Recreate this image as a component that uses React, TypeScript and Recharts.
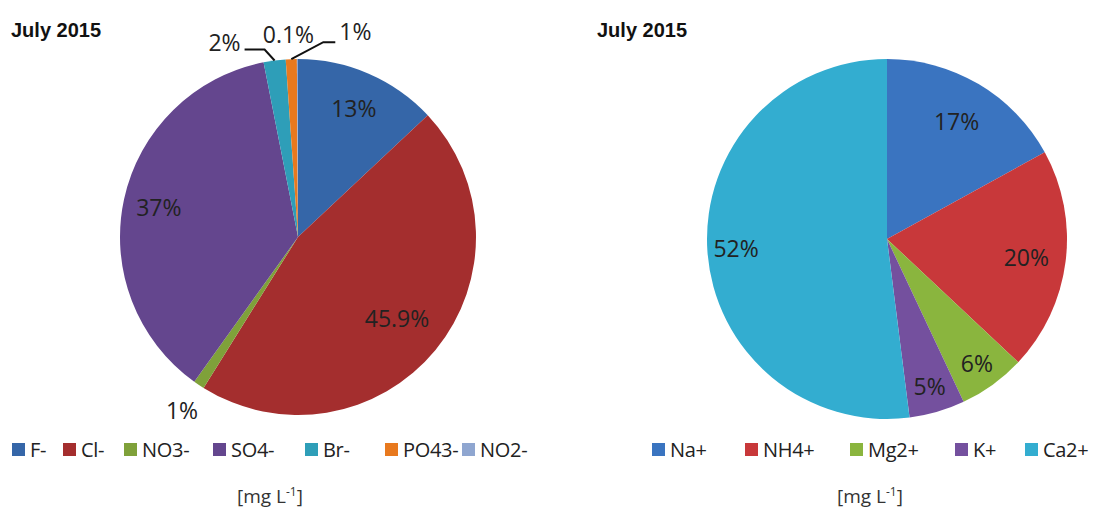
import { PieChart, Pie, Cell } from 'recharts';

const anionNames = ['F-', 'Cl-', 'NO3-', 'SO4-', 'Br-', 'PO43-', 'NO2-'];
const anionValues = [13, 45.9, 1, 37, 2, 1, 0.1];
const anionColors = ['#3566A8', '#A42E2E', '#7FA13A', '#64468E', '#2E9EB8', '#E8791E', '#8FA6D0'];

const cationNames = ['Na+', 'NH4+', 'Mg2+', 'K+', 'Ca2+'];
const cationValues = [17, 20, 6, 5, 52];
const cationColors = ['#3A74C0', '#C8383A', '#8AB53E', '#74509E', '#33ADD0'];

const titleText = 'July 2015';

const labelFont = '"Open Sans", sans-serif';
const RAD = Math.PI / 180;
const noMargin = { top: 0, right: 0, bottom: 0, left: 0 };

// radial position of each inside label, as a fraction of the radius
const anionLabelR = [0.79, 0.72, 1.17, 0.8];
const cationLabelR = [0.76, 0.78, 0.85, 0.85, 0.84];

// legend item slot widths (px), as spaced in the original
const anionLegendSlots = [51, 61, 89, 92, 80, 77, 90];
const cationLegendSlots = [93, 105, 105, 70, 80];

// small slices at the top get callouts: offsets from the arc point
const anionCallouts: Record<number, { line?: number[][]; tx: number; ty: number; anchor: string }> = {
  4: { line: [[0, 0], [-10, -11], [-30, -11]], tx: -34, ty: -10, anchor: 'end' },
  5: { line: [[0, 0], [32, -17], [44, -17]], tx: 48, ty: -19, anchor: 'start' },
  6: { tx: -9, ty: -16, anchor: 'middle' },
};

const fmt = (v: number) => `${v}%`;

function makeLabel(values: number[], radii: number[], callouts: Record<number, any>) {
  return (props: any) => {
    const { cx, cy, midAngle, outerRadius, index } = props;
    const c = callouts[index];
    if (c) {
      const px = cx + outerRadius * Math.cos(-midAngle * RAD);
      const py = cy + outerRadius * Math.sin(-midAngle * RAD);
      return (
        <g key={`l-${index}`}>
          {c.line && (
            <polyline
              points={c.line.map((p: number[]) => `${px + p[0]},${py + p[1]}`).join(' ')}
              fill="none"
              stroke="#111"
              strokeWidth={2}
            />
          )}
          <text x={px + c.tx} y={py + c.ty} textAnchor={c.anchor} fill="#222" fontSize={23} fontFamily={labelFont}>
            {fmt(values[index])}
          </text>
        </g>
      );
    }
    const r = outerRadius * radii[index];
    const x = cx + r * Math.cos(-midAngle * RAD);
    const y = cy + r * Math.sin(-midAngle * RAD);
    return (
      <text key={`l-${index}`} x={x} y={y} textAnchor="middle" dominantBaseline="central" fill="#222" fontSize={23} fontFamily={labelFont}>
        {fmt(values[index])}
      </text>
    );
  };
}

function LegendRow({ names, colors, slots }: { names: string[]; colors: string[]; slots: number[] }) {
  return (
    <div style={{ display: 'flex', fontFamily: labelFont, fontSize: 20, letterSpacing: -0.3, color: '#222', whiteSpace: 'nowrap' }}>
      {names.map((n, i) => (
        <div key={n} style={{ display: 'flex', alignItems: 'center', width: slots[i] }}>
          <div style={{ width: 13, height: 13, background: colors[i], marginRight: 5, flex: 'none' }} />
          <span>{n}</span>
        </div>
      ))}
    </div>
  );
}

function Unit({ left }: { left: number }) {
  return (
    <div style={{ position: 'absolute', left, top: 483, fontFamily: labelFont, fontSize: 19, color: '#333' }}>
      [mg L<sup style={{ fontSize: 12 }}>-1</sup>]
    </div>
  );
}

function Title({ left }: { left: number }) {
  return (
    <div style={{ position: 'absolute', left, top: 19, fontFamily: '"Liberation Sans", Arial, sans-serif', fontWeight: 700, fontSize: 20, letterSpacing: 0, color: '#111' }}>
      {titleText}
    </div>
  );
}

export default function App() {
  const anionData = anionNames.map((name, i) => ({ name, value: anionValues[i] }));
  const cationData = cationNames.map((name, i) => ({ name, value: cationValues[i] }));
  return (
    <div style={{ position: 'fixed', left: 0, top: 0, width: 1100, height: 509, background: '#fff', overflow: 'hidden' }}>
      <div style={{ position: 'absolute', left: 0, top: 0 }}>
        <PieChart width={590} height={430} margin={noMargin}>
          <Pie
            data={anionData}
            dataKey="value"
            nameKey="name"
            cx={298}
            cy={237}
            outerRadius={178}
            startAngle={90}
            endAngle={-270}
            stroke="none"
            labelLine={false}
            label={makeLabel(anionValues, anionLabelR, anionCallouts)}
            isAnimationActive={false}
          >
            {anionData.map((d, i) => (
              <Cell key={d.name} fill={anionColors[i]} />
            ))}
          </Pie>
        </PieChart>
      </div>
      <div style={{ position: 'absolute', left: 590, top: 0 }}>
        <PieChart width={510} height={430} margin={noMargin}>
          <Pie
            data={cationData}
            dataKey="value"
            nameKey="name"
            cx={297}
            cy={239}
            outerRadius={180}
            startAngle={90}
            endAngle={-270}
            stroke="none"
            labelLine={false}
            label={makeLabel(cationValues, cationLabelR, {})}
            isAnimationActive={false}
          >
            {cationData.map((d, i) => (
              <Cell key={d.name} fill={cationColors[i]} />
            ))}
          </Pie>
        </PieChart>
      </div>
      <Title left={11} />
      <Title left={597} />
      <div style={{ position: 'absolute', left: 12, top: 436 }}>
        <LegendRow names={anionNames} colors={anionColors} slots={anionLegendSlots} />
      </div>
      <div style={{ position: 'absolute', left: 652, top: 436 }}>
        <LegendRow names={cationNames} colors={cationColors} slots={cationLegendSlots} />
      </div>
      <Unit left={237} />
      <Unit left={837} />
    </div>
  );
}
